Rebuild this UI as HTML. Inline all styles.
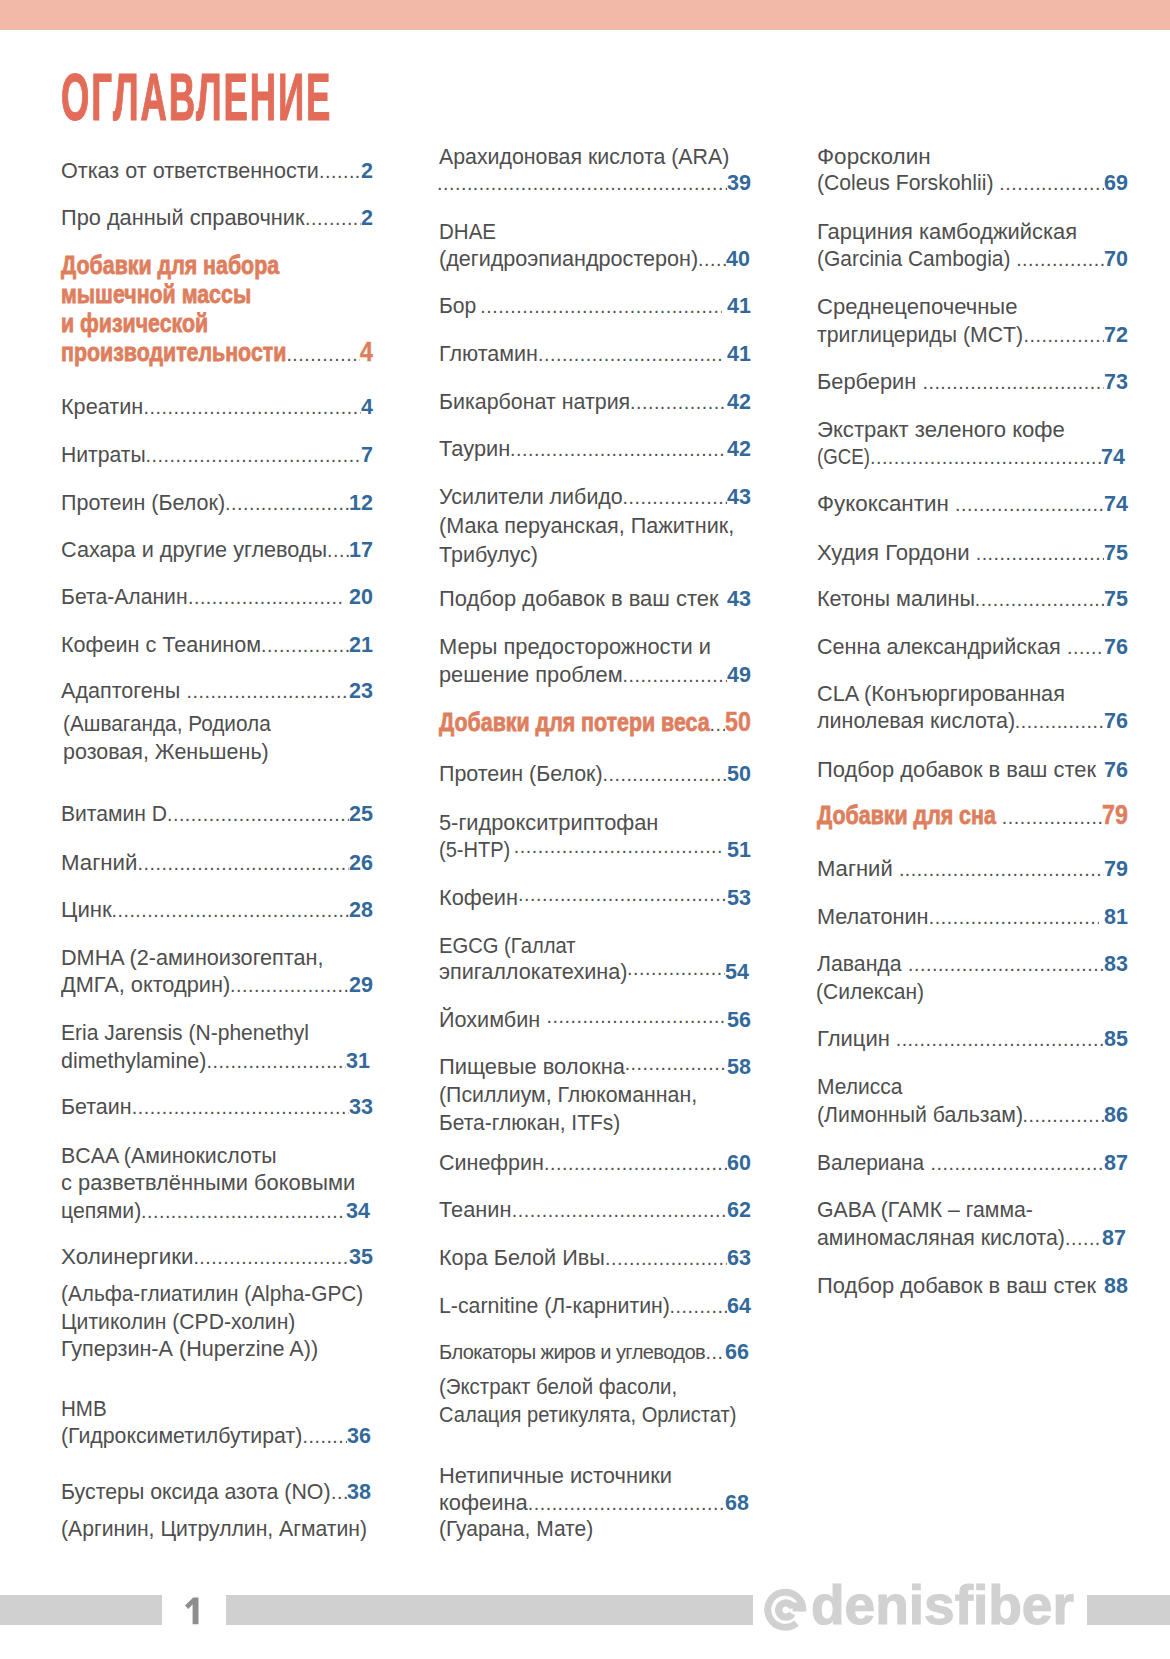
<!DOCTYPE html>
<html lang="ru"><head><meta charset="utf-8"><title>Оглавление</title>
<style>
html,body{margin:0;padding:0;background:#fff;}
body{width:1170px;height:1659px;position:relative;overflow:hidden;font-family:"Liberation Sans",sans-serif;}
.topbar{position:absolute;left:0;top:0;width:1170px;height:30px;background:#f2b8a8;}
.title{position:absolute;left:61px;top:56.6px;font-weight:bold;font-size:66px;line-height:80px;color:#e26c58;-webkit-text-stroke:1.2px #e26c58;letter-spacing:3.4px;transform:scaleX(0.553);transform-origin:0 0;white-space:nowrap;}
.ln{position:absolute;height:30px;line-height:30px;font-size:21.5px;color:#4e4e4e;white-space:nowrap;}
.row{display:flex;align-items:baseline;}
.tx{flex:none;}
.sw{flex:none;display:inline-block;white-space:nowrap;}
.sx{display:inline-block;transform-origin:0 50%;}
.ld{flex:1 1 auto;overflow:hidden;color:#505050;font-size:19.5px;letter-spacing:0.56px;min-width:0;}
.ld.gp{margin-left:6px;}
.ld.gp2{margin-left:4px;}
.ld.gr{margin-right:5px;}
.ld.md{position:relative;top:-4.5px;}
.sp{flex:1 1 auto;}
.nm{flex:none;font-weight:bold;color:#33699a;}
.hd{line-height:30px;}
.hw{flex:none;display:inline-block;white-space:nowrap;}
.hx{display:inline-block;-webkit-text-stroke:0.8px #de7e5d;font-weight:bold;font-size:25.3px;color:#de7e5d;transform:scaleX(0.845);transform-origin:0 50%;}
.hn{display:inline-block;-webkit-text-stroke:0.5px #de7e5d;font-weight:bold;font-size:27.5px;color:#de7e5d;transform:scaleX(0.845);transform-origin:0 50%;}
.cx{flex:none;font-size:20px;letter-spacing:-0.6px;}
.bar{position:absolute;background:#d0d0d0;top:1595px;height:30px;}
.pg{position:absolute;left:182.5px;top:1590.5px;font-weight:bold;font-size:36px;line-height:44px;color:#8c8c8c;}
.wm{position:absolute;left:811px;top:1573.4px;font-weight:bold;font-size:55px;line-height:64px;color:#d2d1d2;-webkit-text-stroke:1.2px #d2d1d2;white-space:nowrap;}
</style></head><body>
<div class="topbar"></div>
<div class="title">ОГЛАВЛЕНИЕ</div>
<div class="ln row" style="top:156.1px;left:61px;width:312px;"><span class="sw tx" style="width:258.01px"><span id="t0" class="sx" style="transform:scaleX(1.0039)">Отказ от ответственности</span></span><span class="ld">........................................................................................................................</span><span class="nm">2</span></div>
<div class="ln row" style="top:202.9px;left:61px;width:312px;"><span class="sw tx" style="width:244.04px"><span id="t1" class="sx" style="transform:scaleX(1.0126)">Про данный справочник</span></span><span class="ld">........................................................................................................................</span><span class="nm">2</span></div>
<div class="ln hd" style="top:249.7px;left:61px;"><span class="hw" style="width:218.1px"><span class="hx">Добавки для набора</span></span></div>
<div class="ln hd" style="top:278.7px;left:61px;"><span class="hw" style="width:190.2px"><span class="hx">мышечной массы</span></span></div>
<div class="ln hd" style="top:308.2px;left:61px;"><span class="hw" style="width:147.2px"><span class="hx">и физической</span></span></div>
<div class="ln row hd" style="top:337.1px;left:61px;width:312px;"><span class="hw" style="width:225.4px"><span class="hx">производительности</span></span><span class="ld">........................................................................................................................</span><span class="hw" style="width:12.9px"><span class="hn">4</span></span></div>
<div class="ln row" style="top:392.1px;left:61px;width:312px;"><span class="sw tx" style="width:82.53px"><span id="t6" class="sx" style="transform:scaleX(1.0064)">Креатин</span></span><span class="ld">........................................................................................................................</span><span class="nm">4</span></div>
<div class="ln row" style="top:439.8px;left:61px;width:312px;"><span class="sw tx" style="width:84.55px"><span id="t7" class="sx" style="transform:scaleX(0.9831)">Нитраты</span></span><span class="ld">........................................................................................................................</span><span class="nm">7</span></div>
<div class="ln row" style="top:487.6px;left:61px;width:312px;"><span class="sw tx" style="width:164.00px"><span id="t8" class="sx" style="transform:scaleX(1.0000)">Протеин (Белок)</span></span><span class="ld">........................................................................................................................</span><span class="nm">12</span></div>
<div class="ln row" style="top:535.3px;left:61px;width:312px;"><span class="sw tx" style="width:266.02px"><span id="t9" class="sx" style="transform:scaleX(1.0076)">Сахара и другие углеводы</span></span><span class="ld">........................................................................................................................</span><span class="nm">17</span></div>
<div class="ln row" style="top:582.1px;left:61px;width:312px;"><span class="sw tx" style="width:126.94px"><span id="t10" class="sx" style="transform:scaleX(0.9840)">Бета-Аланин</span></span><span class="ld gr">........................................................................................................................</span><span class="nm">20</span></div>
<div class="ln row" style="top:629.8px;left:61px;width:312px;"><span class="sw tx" style="width:200.02px"><span id="t11" class="sx" style="transform:scaleX(1.0051)">Кофеин с Теанином</span></span><span class="ld">........................................................................................................................</span><span class="nm">21</span></div>
<div class="ln row" style="top:676.2px;left:61px;width:312px;"><span class="sw tx" style="width:119.51px"><span id="t12" class="sx" style="transform:scaleX(1.0043)">Адаптогены</span></span><span class="ld gp">........................................................................................................................</span><span class="nm">23</span></div>
<div class="ln" style="top:709.2px;left:63px;"><span class="sw tx" style="width:207.77px"><span id="t13" class="sx" style="transform:scaleX(0.9664)">(Ашваганда, Родиола</span></span></div>
<div class="ln" style="top:736.9px;left:63px;"><span class="sw tx" style="width:205.70px"><span id="t14" class="sx" style="transform:scaleX(0.9985)">розовая, Женьшень)</span></span></div>
<div class="ln row" style="top:799.4px;left:61px;width:312px;"><span class="sw tx" style="width:105.94px"><span id="t15" class="sx" style="transform:scaleX(0.9810)">Витамин D</span></span><span class="ld">........................................................................................................................</span><span class="nm">25</span></div>
<div class="ln row" style="top:847.8px;left:61px;width:312px;"><span class="sw tx" style="width:76.54px"><span id="t16" class="sx" style="transform:scaleX(1.0343)">Магний</span></span><span class="ld">........................................................................................................................</span><span class="nm">26</span></div>
<div class="ln row" style="top:894.6px;left:61px;width:312px;"><span class="sw tx" style="width:50.46px"><span id="t17" class="sx" style="transform:scaleX(1.0298)">Цинк</span></span><span class="ld">........................................................................................................................</span><span class="nm">28</span></div>
<div class="ln" style="top:942.9px;left:61px;"><span class="sw tx" style="width:262.52px"><span id="t18" class="sx" style="transform:scaleX(1.0058)">DMHA (2-аминоизогептан,</span></span></div>
<div class="ln row" style="top:969.9px;left:61px;width:312px;"><span class="sw tx" style="width:169.01px"><span id="t19" class="sx" style="transform:scaleX(1.0120)">ДМГА, октодрин)</span></span><span class="ld">........................................................................................................................</span><span class="nm">29</span></div>
<div class="ln" style="top:1017.6px;left:61px;"><span class="sw tx" style="width:247.64px"><span id="t20" class="sx" style="transform:scaleX(0.9788)">Eria Jarensis (N-phenethyl</span></span></div>
<div class="ln row" style="top:1045.9px;left:61px;width:309px;"><span class="sw tx" style="width:145.59px"><span id="t21" class="sx" style="transform:scaleX(0.9972)">dimethylamine)</span></span><span class="ld">........................................................................................................................</span><span class="nm">31</span></div>
<div class="ln row" style="top:1092.1px;left:61px;width:312px;"><span class="sw tx" style="width:70.79px"><span id="t22" class="sx" style="transform:scaleX(0.9971)">Бетаин</span></span><span class="ld">........................................................................................................................</span><span class="nm">33</span></div>
<div class="ln" style="top:1140.7px;left:61px;"><span class="sw tx" style="width:215.38px"><span id="t23" class="sx" style="transform:scaleX(0.9925)">BCAA (Аминокислоты</span></span></div>
<div class="ln" style="top:1168.4px;left:61px;"><span class="sw tx" style="width:293.83px"><span id="t24" class="sx" style="transform:scaleX(1.0167)">с разветвлёнными боковыми</span></span></div>
<div class="ln row" style="top:1196.1px;left:61px;width:309px;"><span class="sw tx" style="width:79.97px"><span id="t25" class="sx" style="transform:scaleX(0.9873)">цепями)</span></span><span class="ld">........................................................................................................................</span><span class="nm">34</span></div>
<div class="ln row" style="top:1242.2px;left:61px;width:312px;"><span class="sw tx" style="width:132.38px"><span id="t26" class="sx" style="transform:scaleX(1.0424)">Холинергики</span></span><span class="ld">........................................................................................................................</span><span class="nm">35</span></div>
<div class="ln" style="top:1279.2px;left:61px;"><span class="sw tx" style="width:302.40px"><span id="t27" class="sx" style="transform:scaleX(0.9661)">(Альфа-глиатилин (Alpha-GPC)</span></span></div>
<div class="ln" style="top:1306.9px;left:61px;"><span class="sw tx" style="width:234.73px"><span id="t28" class="sx" style="transform:scaleX(0.9821)">Цитиколин (CPD-холин)</span></span></div>
<div class="ln" style="top:1333.9px;left:61px;"><span class="sw tx" style="width:257.01px"><span id="t29" class="sx" style="transform:scaleX(1.0040)">Гуперзин-А (Huperzine A))</span></span></div>
<div class="ln" style="top:1393.6px;left:61px;"><span class="sw tx" style="width:45.87px"><span id="t30" class="sx" style="transform:scaleX(0.9556)">HMB</span></span></div>
<div class="ln row" style="top:1421.3px;left:61px;width:310px;"><span class="sw tx" style="width:241.48px"><span id="t31" class="sx" style="transform:scaleX(0.9897)">(Гидроксиметилбутират)</span></span><span class="ld">........................................................................................................................</span><span class="nm">36</span></div>
<div class="ln row" style="top:1477.0px;left:61px;width:310px;"><span class="sw tx" style="width:269.97px"><span id="t32" class="sx" style="transform:scaleX(0.9925)">Бустеры оксида азота (NO)</span></span><span class="ld">........................................................................................................................</span><span class="nm">38</span></div>
<div class="ln" style="top:1514.3px;left:61px;"><span class="sw tx" style="width:305.97px"><span id="t33" class="sx" style="transform:scaleX(0.9838)">(Аргинин, Цитруллин, Агматин)</span></span></div>
<div class="ln" style="top:141.6px;left:439px;"><span class="sw tx" style="width:290.68px"><span id="t34" class="sx" style="transform:scaleX(0.9921)">Арахидоновая кислота (ARA)</span></span></div>
<div class="ln row" style="top:168.4px;left:437px;width:314px;"><span class="tx"></span><span class="ld">........................................................................................................................</span><span class="nm">39</span></div>
<div class="ln" style="top:216.7px;left:439px;"><span class="sw tx" style="width:57.26px"><span id="t36" class="sx" style="transform:scaleX(0.9544)">DHAE</span></span></div>
<div class="ln row" style="top:244.4px;left:439px;width:311px;"><span class="sw tx" style="width:259.01px"><span id="t37" class="sx" style="transform:scaleX(1.0039)">(дегидроэпиандростерон)</span></span><span class="ld">........................................................................................................................</span><span class="nm">40</span></div>
<div class="ln row" style="top:291.4px;left:439px;width:312px;"><span class="sw tx" style="width:37.35px"><span id="t38" class="sx" style="transform:scaleX(0.9829)">Бор</span></span><span class="ld gp2 gr">........................................................................................................................</span><span class="nm">41</span></div>
<div class="ln row" style="top:339.2px;left:439px;width:312px;"><span class="sw tx" style="width:99.00px"><span id="t39" class="sx" style="transform:scaleX(1.0000)">Глютамин</span></span><span class="ld gr">........................................................................................................................</span><span class="nm">41</span></div>
<div class="ln row" style="top:386.9px;left:439px;width:312px;"><span class="sw tx" style="width:190.98px"><span id="t40" class="sx" style="transform:scaleX(0.9947)">Бикарбонат натрия</span></span><span class="ld">........................................................................................................................</span><span class="nm">42</span></div>
<div class="ln row" style="top:434.4px;left:439px;width:312px;"><span class="sw tx" style="width:71.01px"><span id="t41" class="sx" style="transform:scaleX(1.0145)">Таурин</span></span><span class="ld">........................................................................................................................</span><span class="nm">42</span></div>
<div class="ln row" style="top:481.6px;left:439px;width:312px;"><span class="sw tx" style="width:183.49px"><span id="t42" class="sx" style="transform:scaleX(0.9973)">Усилители либидо</span></span><span class="ld">........................................................................................................................</span><span class="nm">43</span></div>
<div class="ln" style="top:511.4px;left:439px;"><span class="sw tx" style="width:295.31px"><span id="t43" class="sx" style="transform:scaleX(1.0045)">(Мака перуанская, Пажитник,</span></span></div>
<div class="ln" style="top:540.1px;left:439px;"><span class="sw tx" style="width:99.00px"><span id="t44" class="sx" style="transform:scaleX(1.0000)">Трибулус)</span></span></div>
<div class="ln row" style="top:584.4px;left:439px;width:312px;"><span class="sw tx" style="width:279.54px"><span id="t45" class="sx" style="transform:scaleX(1.0202)">Подбор добавок в ваш стек</span></span><span class="sp"></span><span class="nm">43</span></div>
<div class="ln" style="top:632.1px;left:439px;"><span class="sw tx" style="width:272.06px"><span id="t46" class="sx" style="transform:scaleX(1.0152)">Меры предосторожности и</span></span></div>
<div class="ln row" style="top:660.1px;left:439px;width:312px;"><span class="sw tx" style="width:183.53px"><span id="t47" class="sx" style="transform:scaleX(1.0140)">решение проблем</span></span><span class="ld">........................................................................................................................</span><span class="nm">49</span></div>
<div class="ln row hd" style="top:707.2px;left:439px;width:312px;"><span class="hw" style="width:270.5px"><span class="hx">Добавки для потери веса</span></span><span class="ld">........................................................................................................................</span><span class="hw" style="width:25.9px"><span class="hn">50</span></span></div>
<div class="ln row" style="top:759.2px;left:439px;width:312px;"><span class="sw tx" style="width:163.49px"><span id="t49" class="sx" style="transform:scaleX(0.9969)">Протеин (Белок)</span></span><span class="ld">........................................................................................................................</span><span class="nm">50</span></div>
<div class="ln" style="top:807.6px;left:439px;"><span class="sw tx" style="width:219.03px"><span id="t50" class="sx" style="transform:scaleX(1.0140)">5-гидрокситриптофан</span></span></div>
<div class="ln row" style="top:835.4px;left:439px;width:312px;"><span class="sw tx" style="width:70.86px"><span id="t51" class="sx" style="transform:scaleX(0.9324)">(5-HTP)</span></span><span class="ld md gp2 gr">........................................................................................................................</span><span class="nm">51</span></div>
<div class="ln row" style="top:883.0px;left:439px;width:312px;"><span class="sw tx" style="width:79.04px"><span id="t52" class="sx" style="transform:scaleX(1.0133)">Кофеин</span></span><span class="ld md">........................................................................................................................</span><span class="nm">53</span></div>
<div class="ln" style="top:930.7px;left:439px;"><span class="sw tx" style="width:136.28px"><span id="t53" class="sx" style="transform:scaleX(0.9399)">EGCG (Галлат</span></span></div>
<div class="ln row" style="top:957.4px;left:439px;width:310px;"><span class="sw tx" style="width:188.01px"><span id="t54" class="sx" style="transform:scaleX(1.0054)">эпигаллокатехина)</span></span><span class="ld md">........................................................................................................................</span><span class="nm">54</span></div>
<div class="ln row" style="top:1005.4px;left:439px;width:312px;"><span class="sw tx" style="width:101.52px"><span id="t55" class="sx" style="transform:scaleX(1.0052)">Йохимбин</span></span><span class="ld md gp">........................................................................................................................</span><span class="nm">56</span></div>
<div class="ln row" style="top:1052.2px;left:439px;width:312px;"><span class="sw tx" style="width:185.64px"><span id="t56" class="sx" style="transform:scaleX(1.0200)">Пищевые волокна</span></span><span class="ld md">........................................................................................................................</span><span class="nm">58</span></div>
<div class="ln" style="top:1079.9px;left:439px;"><span class="sw tx" style="width:258.37px"><span id="t57" class="sx" style="transform:scaleX(0.9899)">(Псиллиум, Глюкоманнан,</span></span></div>
<div class="ln" style="top:1107.6px;left:439px;"><span class="sw tx" style="width:181.32px"><span id="t58" class="sx" style="transform:scaleX(0.9749)">Бета-глюкан, ITFs)</span></span></div>
<div class="ln row" style="top:1147.6px;left:439px;width:312px;"><span class="sw tx" style="width:105.00px"><span id="t59" class="sx" style="transform:scaleX(1.0000)">Синефрин</span></span><span class="ld">........................................................................................................................</span><span class="nm">60</span></div>
<div class="ln row" style="top:1195.4px;left:439px;width:312px;"><span class="sw tx" style="width:72.82px"><span id="t60" class="sx" style="transform:scaleX(1.0114)">Теанин</span></span><span class="ld">........................................................................................................................</span><span class="nm">62</span></div>
<div class="ln row" style="top:1243.0px;left:439px;width:312px;"><span class="sw tx" style="width:166.02px"><span id="t61" class="sx" style="transform:scaleX(1.0062)">Кора Белой Ивы</span></span><span class="ld">........................................................................................................................</span><span class="nm">63</span></div>
<div class="ln row" style="top:1290.7px;left:439px;width:312px;"><span class="sw tx" style="width:230.57px"><span id="t62" class="sx" style="transform:scaleX(0.9896)">L-carnitine (Л-карнитин)</span></span><span class="ld">........................................................................................................................</span><span class="nm">64</span></div>
<div class="ln row" style="top:1337.4px;left:439px;width:310px;"><span class="sw cx" style="width:266.62px"><span id="t63" class="sx" style="transform:scaleX(1.0061)">Блокаторы жиров и углеводов</span></span><span class="ld">........................................................................................................................</span><span class="nm">66</span></div>
<div class="ln" style="top:1372.2px;left:439px;"><span class="sw tx" style="width:238.25px"><span id="t64" class="sx" style="transform:scaleX(0.9492)">(Экстракт белой фасоли,</span></span></div>
<div class="ln" style="top:1399.9px;left:439px;"><span class="sw tx" style="width:297.27px"><span id="t65" class="sx" style="transform:scaleX(0.9348)">Салация ретикулята, Орлистат)</span></span></div>
<div class="ln" style="top:1461.1px;left:439px;"><span class="sw tx" style="width:232.85px"><span id="t66" class="sx" style="transform:scaleX(1.0168)">Нетипичные источники</span></span></div>
<div class="ln row" style="top:1488.2px;left:439px;width:310px;"><span class="sw tx" style="width:88.72px"><span id="t67" class="sx" style="transform:scaleX(1.0198)">кофеина</span></span><span class="ld">........................................................................................................................</span><span class="nm">68</span></div>
<div class="ln" style="top:1513.7px;left:439px;"><span class="sw tx" style="width:154.25px"><span id="t68" class="sx" style="transform:scaleX(0.9763)">(Гуарана, Мате)</span></span></div>
<div class="ln" style="top:141.6px;left:817px;"><span class="sw tx" style="width:114.14px"><span id="t69" class="sx" style="transform:scaleX(1.0472)">Форсколин</span></span></div>
<div class="ln row" style="top:168.4px;left:817px;width:311px;"><span class="sw tx" style="width:176.27px"><span id="t70" class="sx" style="transform:scaleX(0.9847)">(Coleus Forskohlii)</span></span><span class="ld gp">........................................................................................................................</span><span class="nm">69</span></div>
<div class="ln" style="top:216.7px;left:817px;"><span class="sw tx" style="width:260.47px"><span id="t71" class="sx" style="transform:scaleX(1.0175)">Гарциния камбоджийская</span></span></div>
<div class="ln row" style="top:244.4px;left:817px;width:311px;"><span class="sw tx" style="width:193.15px"><span id="t72" class="sx" style="transform:scaleX(0.9755)">(Garcinia Cambogia)</span></span><span class="ld gp">........................................................................................................................</span><span class="nm">70</span></div>
<div class="ln" style="top:292.1px;left:817px;"><span class="sw tx" style="width:200.03px"><span id="t73" class="sx" style="transform:scaleX(1.0258)">Среднецепочечные</span></span></div>
<div class="ln row" style="top:320.1px;left:817px;width:311px;"><span class="sw tx" style="width:206.48px"><span id="t74" class="sx" style="transform:scaleX(0.9879)">триглицериды (MCT)</span></span><span class="ld">........................................................................................................................</span><span class="nm">72</span></div>
<div class="ln row" style="top:366.9px;left:817px;width:311px;"><span class="sw tx" style="width:99.44px"><span id="t75" class="sx" style="transform:scaleX(1.0147)">Берберин</span></span><span class="ld gp">........................................................................................................................</span><span class="nm">73</span></div>
<div class="ln" style="top:415.2px;left:817px;"><span class="sw tx" style="width:248.06px"><span id="t76" class="sx" style="transform:scaleX(1.0293)">Экстракт зеленого кофе</span></span></div>
<div class="ln row" style="top:442.2px;left:817px;width:308px;"><span class="sw tx" style="width:52.94px"><span id="t77" class="sx" style="transform:scaleX(0.8678)">(GCE)</span></span><span class="ld">........................................................................................................................</span><span class="nm">74</span></div>
<div class="ln row" style="top:489.3px;left:817px;width:311px;"><span class="sw tx" style="width:132.12px"><span id="t78" class="sx" style="transform:scaleX(1.0403)">Фукоксантин</span></span><span class="ld gp">........................................................................................................................</span><span class="nm">74</span></div>
<div class="ln row" style="top:537.6px;left:817px;width:311px;"><span class="sw tx" style="width:152.66px"><span id="t79" class="sx" style="transform:scaleX(1.0315)">Худия Гордони</span></span><span class="ld gp">........................................................................................................................</span><span class="nm">75</span></div>
<div class="ln row" style="top:584.4px;left:817px;width:311px;"><span class="sw tx" style="width:157.82px"><span id="t80" class="sx" style="transform:scaleX(1.0052)">Кетоны малины</span></span><span class="ld">........................................................................................................................</span><span class="nm">75</span></div>
<div class="ln row" style="top:632.1px;left:817px;width:311px;"><span class="sw tx" style="width:244.01px"><span id="t81" class="sx" style="transform:scaleX(1.0042)">Сенна александрийская</span></span><span class="ld gp">........................................................................................................................</span><span class="nm">76</span></div>
<div class="ln" style="top:679.2px;left:817px;"><span class="sw tx" style="width:248.02px"><span id="t82" class="sx" style="transform:scaleX(1.0082)">CLA (Конъюргированная</span></span></div>
<div class="ln row" style="top:706.2px;left:817px;width:311px;"><span class="sw tx" style="width:197.80px"><span id="t83" class="sx" style="transform:scaleX(0.9990)">линолевая кислота)</span></span><span class="ld">........................................................................................................................</span><span class="nm">76</span></div>
<div class="ln row" style="top:754.6px;left:817px;width:311px;"><span class="sw tx" style="width:279.04px"><span id="t84" class="sx" style="transform:scaleX(1.0184)">Подбор добавок в ваш стек</span></span><span class="sp"></span><span class="nm">76</span></div>
<div class="ln row hd" style="top:800.3px;left:817px;width:311px;"><span class="hw" style="width:178.8px"><span class="hx">Добавки для сна</span></span><span class="ld gp">........................................................................................................................</span><span class="hw" style="width:25.9px"><span class="hn">79</span></span></div>
<div class="ln row" style="top:853.8px;left:817px;width:311px;"><span class="sw tx" style="width:75.90px"><span id="t86" class="sx" style="transform:scaleX(1.0257)">Магний</span></span><span class="ld gp">........................................................................................................................</span><span class="nm">79</span></div>
<div class="ln row" style="top:902.1px;left:817px;width:311px;"><span class="sw tx" style="width:111.83px"><span id="t87" class="sx" style="transform:scaleX(1.0075)">Мелатонин</span></span><span class="ld gr">........................................................................................................................</span><span class="nm">81</span></div>
<div class="ln row" style="top:949.2px;left:817px;width:311px;"><span class="sw tx" style="width:85.00px"><span id="t88" class="sx" style="transform:scaleX(0.9884)">Лаванда</span></span><span class="ld gp">........................................................................................................................</span><span class="nm">83</span></div>
<div class="ln" style="top:976.9px;left:816px;"><span class="sw tx" style="width:108.43px"><span id="t89" class="sx" style="transform:scaleX(0.9769)">(Силексан)</span></span></div>
<div class="ln row" style="top:1024.4px;left:817px;width:311px;"><span class="sw tx" style="width:72.67px"><span id="t90" class="sx" style="transform:scaleX(1.0235)">Глицин</span></span><span class="ld gp">........................................................................................................................</span><span class="nm">85</span></div>
<div class="ln" style="top:1072.2px;left:817px;"><span class="sw tx" style="width:84.98px"><span id="t91" class="sx" style="transform:scaleX(0.9767)">Мелисса</span></span></div>
<div class="ln row" style="top:1099.9px;left:817px;width:311px;"><span class="sw tx" style="width:205.48px"><span id="t92" class="sx" style="transform:scaleX(0.9879)">(Лимонный бальзам)</span></span><span class="ld">........................................................................................................................</span><span class="nm">86</span></div>
<div class="ln row" style="top:1147.8px;left:817px;width:311px;"><span class="sw tx" style="width:107.54px"><span id="t93" class="sx" style="transform:scaleX(0.9688)">Валериана</span></span><span class="ld gp">........................................................................................................................</span><span class="nm">87</span></div>
<div class="ln" style="top:1195.4px;left:817px;"><span class="sw tx" style="width:216.28px"><span id="t94" class="sx" style="transform:scaleX(0.9876)">GABA (ГАМК – гамма-</span></span></div>
<div class="ln row" style="top:1222.9px;left:817px;width:309px;"><span class="sw tx" style="width:247.98px"><span id="t95" class="sx" style="transform:scaleX(0.9880)">аминомасляная кислота)</span></span><span class="ld">........................................................................................................................</span><span class="nm">87</span></div>
<div class="ln row" style="top:1270.9px;left:817px;width:311px;"><span class="sw tx" style="width:279.04px"><span id="t96" class="sx" style="transform:scaleX(1.0184)">Подбор добавок в ваш стек</span></span><span class="sp"></span><span class="nm">88</span></div>
<div class="bar" style="left:0;width:162px;"></div>
<svg width="20" height="32" viewBox="180 1594 20 32" style="position:absolute;left:180px;top:1594px;"><polygon points="193.2,1597.6 198.5,1597.6 198.5,1624.2 192.6,1624.2 192.6,1604.6 188.2,1608.9 185,1605.4" fill="#8e8e8e"/></svg>
<div class="bar" style="left:226px;width:527px;"></div>
<svg class="at" width="46" height="46" viewBox="0 0 46 46" style="position:absolute;left:763px;top:1588px;"><path d="M39.80 23.60 L39.80 21.70 A17.5 17.5 0 1 0 33.55 35.11" fill="none" stroke="#d2d1d2" stroke-width="7"/><path d="M29.66 20.16 A7.1 7.1 0 1 0 28.95 25.55" fill="none" stroke="#d2d1d2" stroke-width="7.4"/><path d="M27 14.6 L40 14.6 L40 23.6 L29.5 23.6 L29.5 20 Z" fill="#d2d1d2"/></svg>
<div class="wm">denisfiber</div>
<div class="bar" style="left:1087px;width:83px;"></div>
</body></html>
